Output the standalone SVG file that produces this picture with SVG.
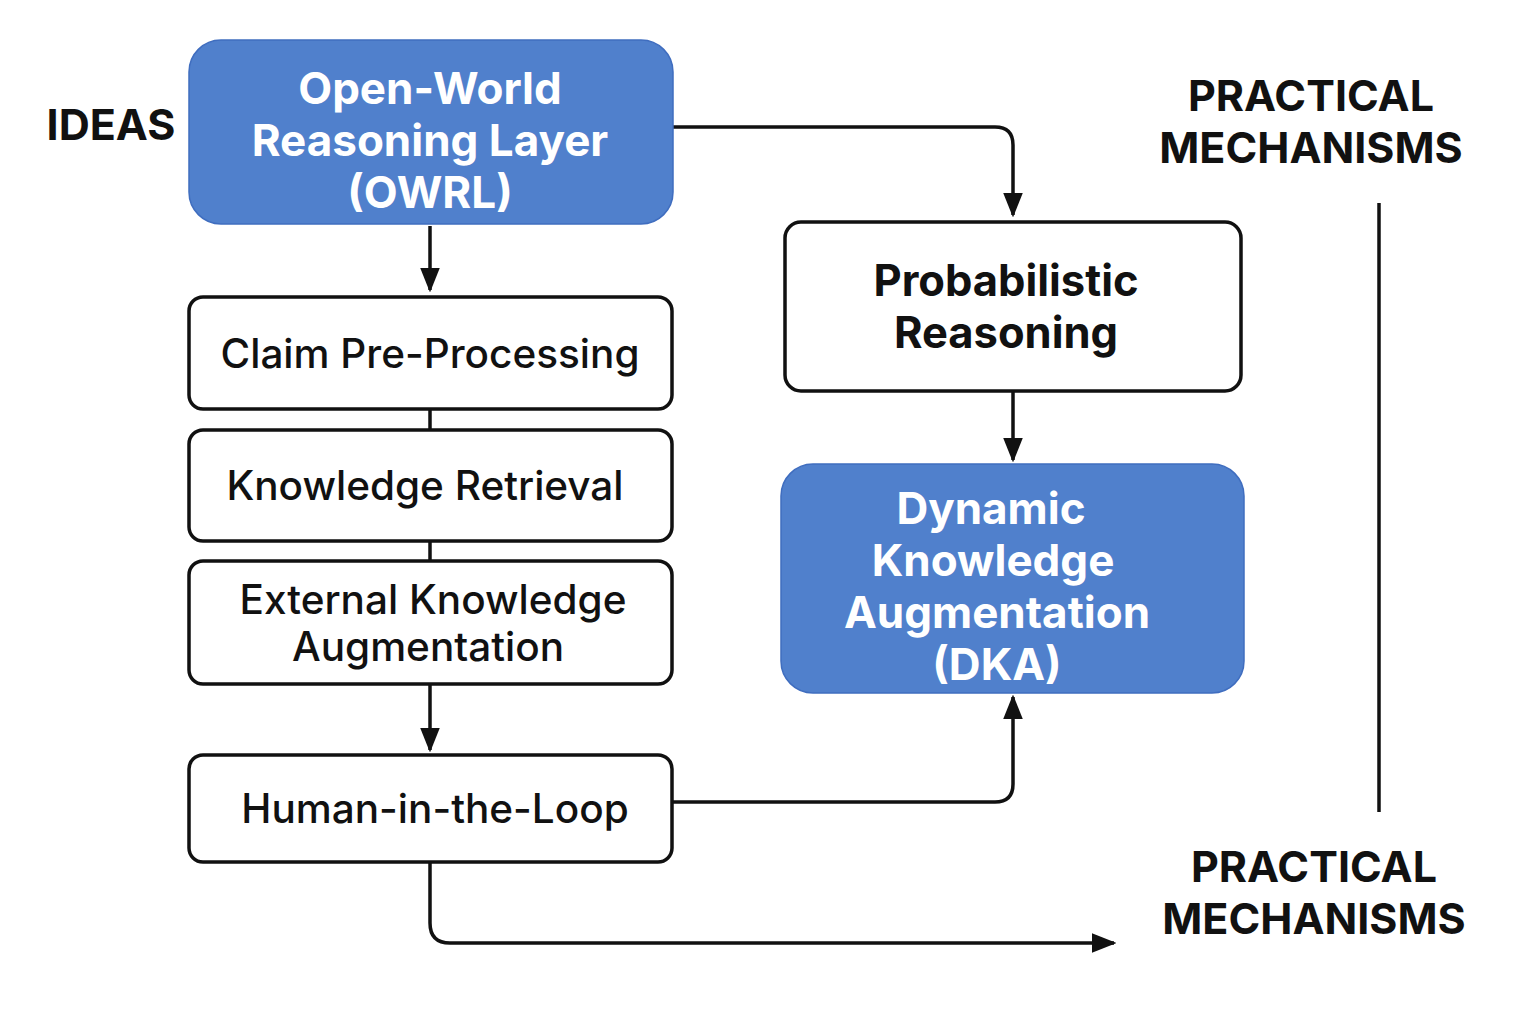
<svg xmlns="http://www.w3.org/2000/svg" width="1536" height="1024" viewBox="0 0 1536 1024">
<style>
.blue{fill:#5080CC;stroke:#3F6DBF;stroke-width:1.5}
.white{fill:#fff;stroke:#111;stroke-width:3.5}
.wt{font-family:Inter,"Noto Sans",sans-serif;font-weight:700;font-size:44px;fill:#fff;text-anchor:middle}
.bt{font-family:Inter,"Noto Sans",sans-serif;font-weight:500;font-size:40.5px;fill:#111;text-anchor:middle}
.bb{font-family:Inter,"Noto Sans",sans-serif;font-weight:700;font-size:43.5px;fill:#111;text-anchor:middle}
.lab{font-family:Inter,"Noto Sans",sans-serif;font-weight:700;font-size:43px;fill:#111;text-anchor:middle}
.c{fill:none;stroke:#111;stroke-width:3.5}
</style>
<defs>
<marker id="a" viewBox="0 0 10 10" refX="9" refY="5" markerWidth="7" markerHeight="7" orient="auto">
<path d="M0,1 L10,5 L0,9 z" fill="#111"/>
</marker>
</defs>
<rect width="1536" height="1024" fill="#fff"/>
<g id="connectors">
<path class="c" d="M430,226 V290" marker-end="url(#a)"/>
<path class="c" d="M430,409 V430"/>
<path class="c" d="M430,541 V561"/>
<path class="c" d="M430,684 V750" marker-end="url(#a)"/>
<path class="c" d="M673,127 H995 Q1013,127 1013,145 V215" marker-end="url(#a)"/>
<path class="c" d="M1013,391 V460" marker-end="url(#a)"/>
<path class="c" d="M673,802 H995 Q1013,802 1013,784 V697" marker-end="url(#a)"/>
<path class="c" d="M430,862 V923 Q430,943 450,943 H1114" marker-end="url(#a)"/>
<path class="c" d="M1379,203 V812"/>
</g>
<g id="owrl">
<rect class="blue" x="189" y="40" width="484" height="184" rx="32"/>
<text class="wt" x="430" y="104">Open-World</text>
<text class="wt" x="430" y="156">Reasoning Layer</text>
<text class="wt" x="430" y="208">(OWRL)</text>
</g>
<g id="claim">
<rect class="white" x="189" y="297" width="483" height="112" rx="14"/>
<text class="bt" x="430" y="368">Claim Pre-Processing</text>
</g>
<g id="retrieval">
<rect class="white" x="189" y="430" width="483" height="111" rx="14"/>
<text class="bt" x="425" y="500">Knowledge Retrieval</text>
</g>
<g id="eka">
<rect class="white" x="189" y="561" width="483" height="123" rx="14"/>
<text class="bt" x="433" y="614">External Knowledge</text>
<text class="bt" x="428" y="661">Augmentation</text>
</g>
<g id="hitl">
<rect class="white" x="189" y="755" width="483" height="107" rx="14"/>
<text class="bt" x="435" y="823">Human-in-the-Loop</text>
</g>
<g id="prob">
<rect class="white" x="785" y="222" width="456" height="169" rx="16"/>
<text class="bb" x="1006" y="296">Probabilistic</text>
<text class="bb" x="1006" y="348">Reasoning</text>
</g>
<g id="dka">
<rect class="blue" x="781" y="464" width="463" height="229" rx="32"/>
<text class="wt" x="991" y="524">Dynamic</text>
<text class="wt" x="993" y="576">Knowledge</text>
<text class="wt" x="997" y="628">Augmentation</text>
<text class="wt" x="997" y="680">(DKA)</text>
</g>
<g id="labels">
<text class="lab" x="111" y="140">IDEAS</text>
<text class="lab" x="1311" y="111">PRACTICAL</text>
<text class="lab" x="1311" y="163">MECHANISMS</text>
<text class="lab" x="1314" y="882">PRACTICAL</text>
<text class="lab" x="1314" y="934">MECHANISMS</text>
</g>
</svg>
